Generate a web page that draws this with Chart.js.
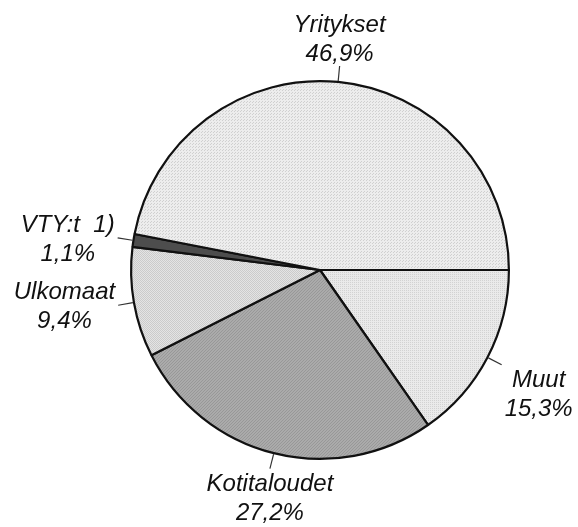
<!DOCTYPE html>
<html>
<head>
<meta charset="utf-8">
<script src="https://cdn.jsdelivr.net/npm/chart.js@4/dist/chart.umd.min.js"></script>
<style>
  html, body { margin: 0; padding: 0; background: #fff; }
  #wrap { width: 578px; height: 527px; }
</style>
</head>
<body>
<div id="wrap"><canvas id="c" width="578" height="527"></canvas></div>
<script>
const categories = ['Muut', 'Kotitaloudet', 'Ulkomaat', 'VTY:t  1)', 'Yritykset'];
const values = [15.3, 27.2, 9.4, 1.1, 46.9];
const valueLabels = ['15,3%', '27,2%', '9,4%', '1,1%', '46,9%'];

// small halftone-like tiles imitating the printed screens
function makePattern(base, dot, size, dots) {
  const cv = document.createElement('canvas');
  cv.width = size; cv.height = size;
  const g = cv.getContext('2d');
  g.fillStyle = base;
  g.fillRect(0, 0, size, size);
  g.fillStyle = dot;
  dots.forEach(d => g.fillRect(d[0], d[1], 1, 1));
  return g.createPattern(cv, 'repeat');
}
const tmp = document.createElement('canvas').getContext('2d');
const fillColors = [
  makePattern('#eaeaea', '#d2d2d2', 2, [[0, 0]]),
  makePattern('#ababab', '#989898', 3, [[0, 0], [2, 1], [1, 2]]),
  makePattern('#e4e4e4', '#cbcbcb', 2, [[0, 0], [1, 1]]),
  '#4d4d4d',
  makePattern('#ededed', '#d0d0d0', 3, [[0, 0], [1, 2]])
];

const labelPlugin = {
  id: 'outerLabels',
  afterDatasetsDraw(chart) {
    const ctx = chart.ctx;
    const meta = chart.getDatasetMeta(0);
    ctx.save();
    ctx.font = 'italic 24px "Liberation Sans", Arial, sans-serif';
    ctx.fillStyle = '#111';
    ctx.textAlign = 'center';
    ctx.textBaseline = 'alphabetic';
    const lineH = 29, capH = 17;
    meta.data.forEach((arc, i) => {
      const p = arc.getProps(['x', 'y', 'startAngle', 'endAngle', 'outerRadius'], true);
      const mid = (p.startAngle + p.endAngle) / 2;
      const c = Math.cos(mid), s = Math.sin(mid);
      const r0 = p.outerRadius + 1, r1 = p.outerRadius + 16;
      const sx = p.x + c * r0, sy = p.y + s * r0;
      const ex = p.x + c * r1, ey = p.y + s * r1;
      ctx.strokeStyle = '#333';
      ctx.lineWidth = 1.2;
      ctx.beginPath();
      ctx.moveTo(sx, sy);
      ctx.lineTo(ex, ey);
      ctx.stroke();
      const lines = [categories[i], valueLabels[i]];
      const w = Math.max(...lines.map(t => ctx.measureText(t).width));
      const H = capH + lineH * (lines.length - 1);
      const cx = Math.abs(c) > 0.3 ? ex + Math.sign(c) * (w / 2 + 3) : ex;
      const cy = Math.abs(s) > 0.3 ? ey + Math.sign(s) * (H / 2 + 5) : ey;
      const firstBase = cy - H / 2 + capH;
      lines.forEach((t, k) => {
        ctx.fillText(t, cx, firstBase + k * lineH);
      });
    });
    ctx.restore();
  }
};

new Chart(document.getElementById('c'), {
  type: 'pie',
  data: {
    labels: categories,
    datasets: [{
      data: values,
      backgroundColor: fillColors,
      borderColor: '#111',
      borderWidth: 2.2,
      hoverOffset: 0
    }]
  },
  options: {
    responsive: false,
    animation: false,
    rotation: 90,
    layout: { padding: { left: 130, right: 68, top: 79, bottom: 66 } },
    plugins: {
      legend: { display: false },
      tooltip: { enabled: false }
    }
  },
  plugins: [labelPlugin]
});
</script>
</body>
</html>
